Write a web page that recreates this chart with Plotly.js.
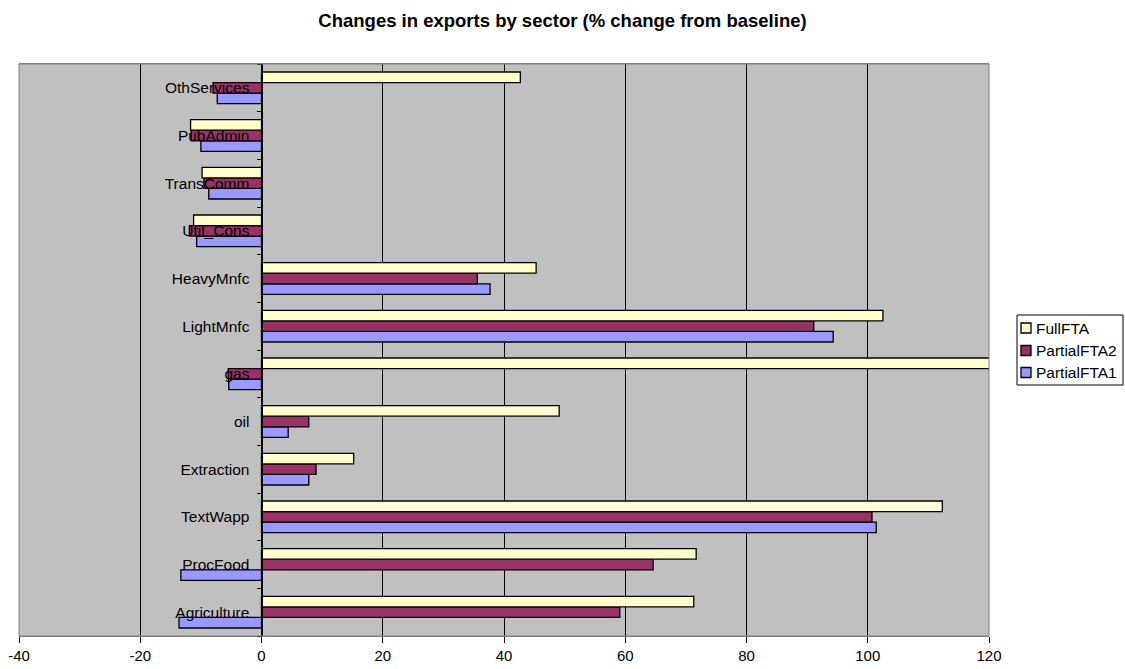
<!DOCTYPE html>
<html>
<head>
<meta charset="utf-8">
<script src="https://cdn.plot.ly/plotly-3.0.1.min.js"></script>
<style>html,body{margin:0;padding:0;background:#fff;}#chart{width:1125px;height:669px;}</style>
</head>
<body>
<div id="chart"></div>
<script>
var sectors = ["Agriculture","ProcFood","TextWapp","Extraction","oil","gas","LightMnfc","HeavyMnfc","Util_Cons","TransComm","PubAdmin","OthServices"];
var partialFTA1 = [-13.6,-13.3,101.4,7.8,4.4,-5.4,94.3,37.7,-10.7,-8.7,-10.0,-7.3];
var partialFTA2 = [59.1,64.6,100.7,9.0,7.8,-5.5,91.1,35.6,-11.9,-9.5,-11.6,-8.0];
var fullFTA = [71.3,71.7,112.3,15.2,49.1,125,102.5,45.3,-11.2,-9.8,-11.7,42.7];
var seriesNames = ["FullFTA","PartialFTA2","PartialFTA1"];
var seriesColors = ["#FFFFCC","#993366","#9999FF"];
var xTicks = [-40,-20,0,20,40,60,80,100,120];

var W = 1125, H = 669, ML = 19, MR = 136, MT = 64, MB = 33;
var PW = W - ML - MR, PH = H - MT - MB;
function px(x){ return (x - ML) / PW; }
function py(y){ return (H - MB - y) / PH; }

function tr(name, vals, color){
  return {type:'bar', orientation:'h', name:name, y:sectors, x:vals,
    marker:{color:color, line:{color:'#000', width:1.3}}, hoverinfo:'x+y+name'};
}
var data = [
  tr(seriesNames[2], partialFTA1, seriesColors[2]),
  tr(seriesNames[1], partialFTA2, seriesColors[1]),
  tr(seriesNames[0], fullFTA, seriesColors[0])
];

// Excel-style legend box
var shapes = [{type:'rect', xref:'paper', yref:'paper', x0:0, x1:1, y0:0, y1:1, line:{color:'#808080', width:1}, fillcolor:'rgba(0,0,0,0)', layer:'above'},
  {type:'rect', xref:'paper', yref:'paper', x0:px(1017), x1:px(1123), y0:py(385), y1:py(315), line:{color:'#000', width:1}, fillcolor:'#fff', layer:'above'}];
var annotations = [];
var rowY = [328, 350.5, 372.5];
seriesNames.forEach(function(n, i){
  shapes.push({type:'rect', xref:'paper', yref:'paper', x0:px(1021), x1:px(1031), y0:py(rowY[i]+5), y1:py(rowY[i]-5), line:{color:'#000', width:1.3}, fillcolor:seriesColors[i], layer:'above'});
  annotations.push({xref:'paper', yref:'paper', x:px(1034), y:py(rowY[i]), xanchor:'left', yanchor:'middle', text:n, showarrow:false, font:{size:15.5, color:'#000'}});
});

var layout = {
  width:W, height:H,
  margin:{l:ML, r:MR, t:MT, b:MB, pad:0},
  paper_bgcolor:'#fff', plot_bgcolor:'#C0C0C0',
  font:{family:'Arial, Liberation Sans, sans-serif', size:15.5, color:'#000'},
  title:{text:'<b>Changes in exports by sector (% change from baseline)</b>', x:0.5, xref:'container', y:1-21/669, yref:'container', yanchor:'middle', font:{size:18.5, color:'#000'}},
  barmode:'group', bargap:0.335, bargroupgap:0,
  showlegend:false,
  xaxis:{range:[-40,120], tickvals:xTicks, ticktext:xTicks.map(String), showgrid:true, gridcolor:'#000', gridwidth:1, zeroline:true, zerolinecolor:'#000', zerolinewidth:1,
    ticks:'outside', ticklen:6, tickcolor:'#000', showline:true, linecolor:'#808080', linewidth:1, mirror:true, fixedrange:true, automargin:false, tickfont:{size:15}},
  yaxis:{type:'category', categoryorder:'array', categoryarray:sectors, anchor:'free', position:0.25, showline:true, linecolor:'#000', linewidth:1,
    ticks:'outside', tickson:'boundaries', ticklen:5, tickcolor:'#000', ticklabelstandoff:9, showgrid:false, automargin:false, fixedrange:true, tickfont:{size:15.5}},
  shapes:shapes, annotations:annotations
};
Plotly.newPlot('chart', data, layout, {displayModeBar:false, staticPlot:true});
</script>
</body>
</html>
